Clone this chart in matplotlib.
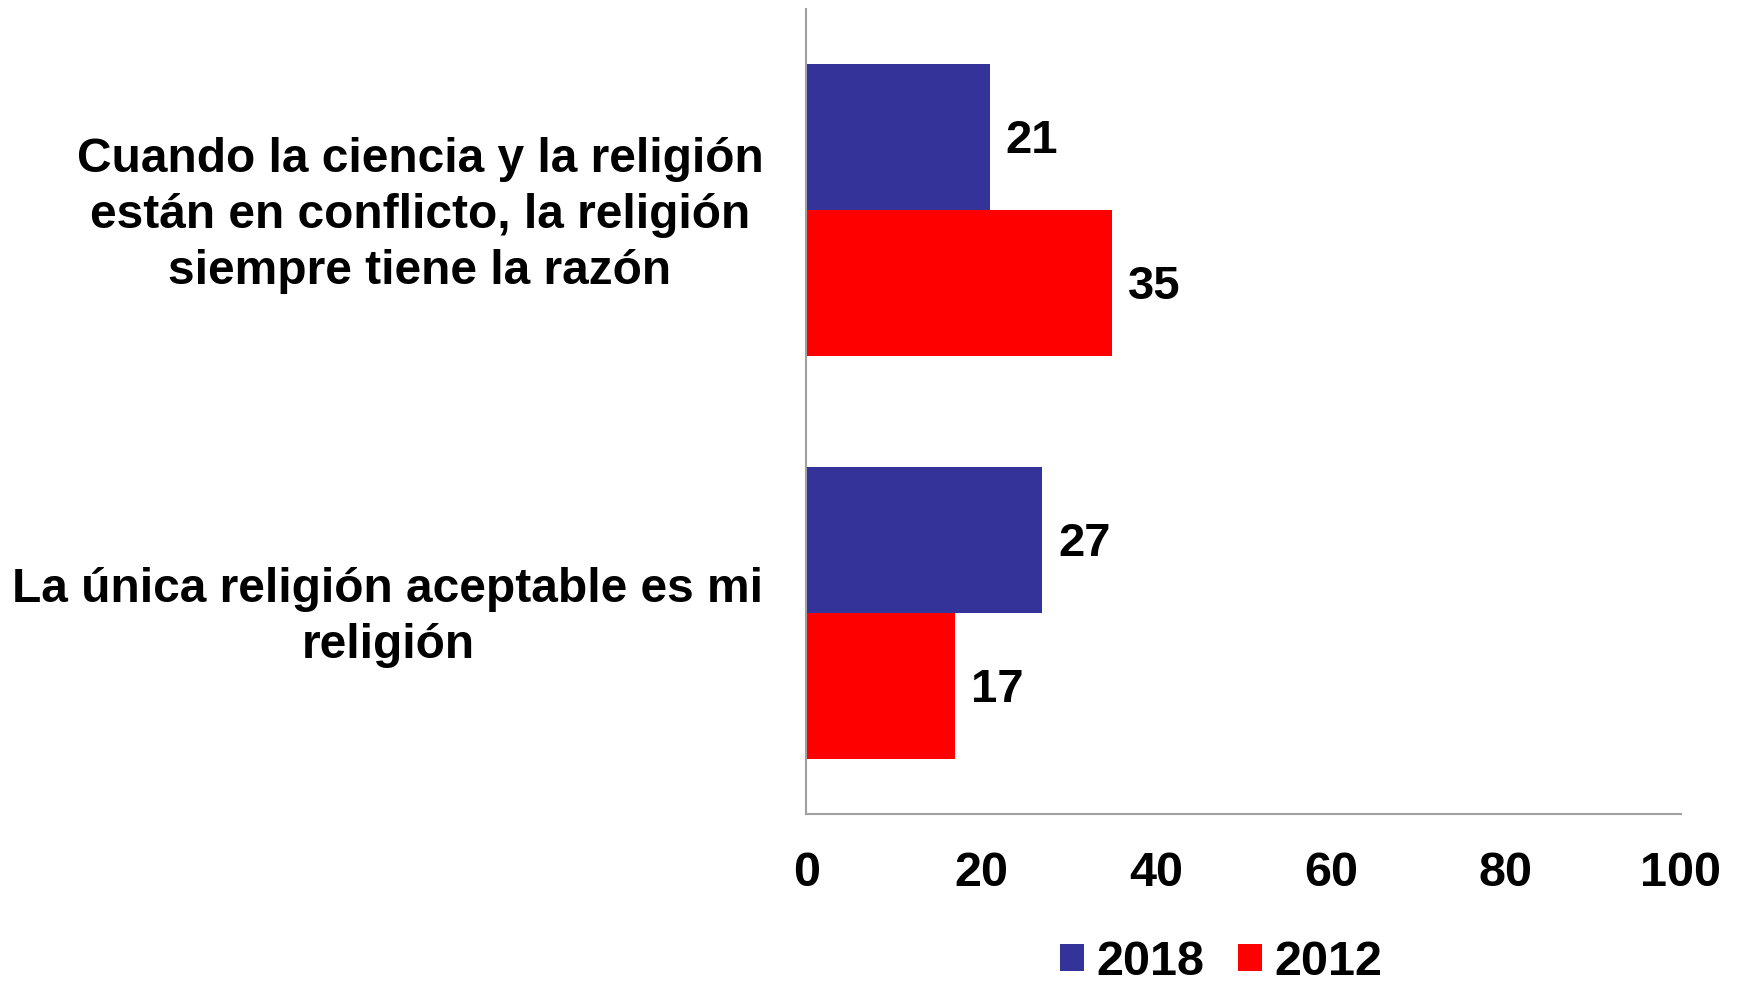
import numpy as np
import matplotlib
matplotlib.use("Agg")
import matplotlib.pyplot as plt
import matplotlib.transforms as mtransforms

plt.rcParams['font.family'] = ['Liberation Sans', 'DejaVu Sans']
plt.rcParams['font.weight'] = 'bold'

categories = ["Cuando la ciencia y la religión\nestán en conflicto, la religión\nsiempre tiene la razón",
              "La única religión aceptable es mi\nreligión"]
series_names = ["2018", "2012"]
vals_2018 = [21, 27]
vals_2012 = [35, 17]
xticks = [0, 20, 40, 60, 80, 100]

c_blue = '#333399'
c_red = '#FF0000'

fig = plt.figure(figsize=(17.37, 9.84), dpi=100)
ax = fig.add_axes([0.4643, 0.1728, 0.5032, 0.8181])

y = np.arange(len(categories))
h = 0.3625
b1 = ax.barh(y - h / 2, vals_2018, height=h, color=c_blue, label=series_names[0])
b2 = ax.barh(y + h / 2, vals_2012, height=h, color=c_red, label=series_names[1])

for bars, vals in ((b1, vals_2018), (b2, vals_2012)):
    for rect, v in zip(bars, vals):
        ax.text(v + 1.8, rect.get_y() + rect.get_height() / 2 + 0.01, str(v),
                va='center', ha='left', fontsize=34, fontweight='bold')

ax.set_ylim(1.5, -0.5)
ax.set_xlim(0, 100)
ax.set_xticks(xticks)
ax.set_xticklabels([str(t) for t in xticks], fontsize=35, fontweight='bold')
ax.set_yticks(y)
ax.set_yticklabels(categories, fontsize=34.5, fontweight='bold', multialignment='center',
                   linespacing=1.32)
ax.tick_params(axis='both', length=0)
ax.tick_params(axis='x', pad=27)
ax.tick_params(axis='y', pad=31)

# nudge category labels up a little
shift = mtransforms.ScaledTranslation(0, 4 / 72, fig.dpi_scale_trans)
for lab in ax.get_yticklabels():
    lab.set_transform(lab.get_transform() + shift)

for s in ('top', 'right'):
    ax.spines[s].set_visible(False)
for s in ('left', 'bottom'):
    ax.spines[s].set_color('#A0A0A0')
    ax.spines[s].set_linewidth(1.5)

leg = fig.legend(handles=[b1, b2], labels=series_names, loc='center',
                 bbox_to_anchor=(0.703, 0.022), ncol=2, frameon=False,
                 prop={'size': 35, 'weight': 'bold'}, handlelength=0.5,
                 handleheight=0.5, handletextpad=0.25, columnspacing=0.7,
                 borderpad=0.1)

fig.savefig('out.png', dpi=100)
